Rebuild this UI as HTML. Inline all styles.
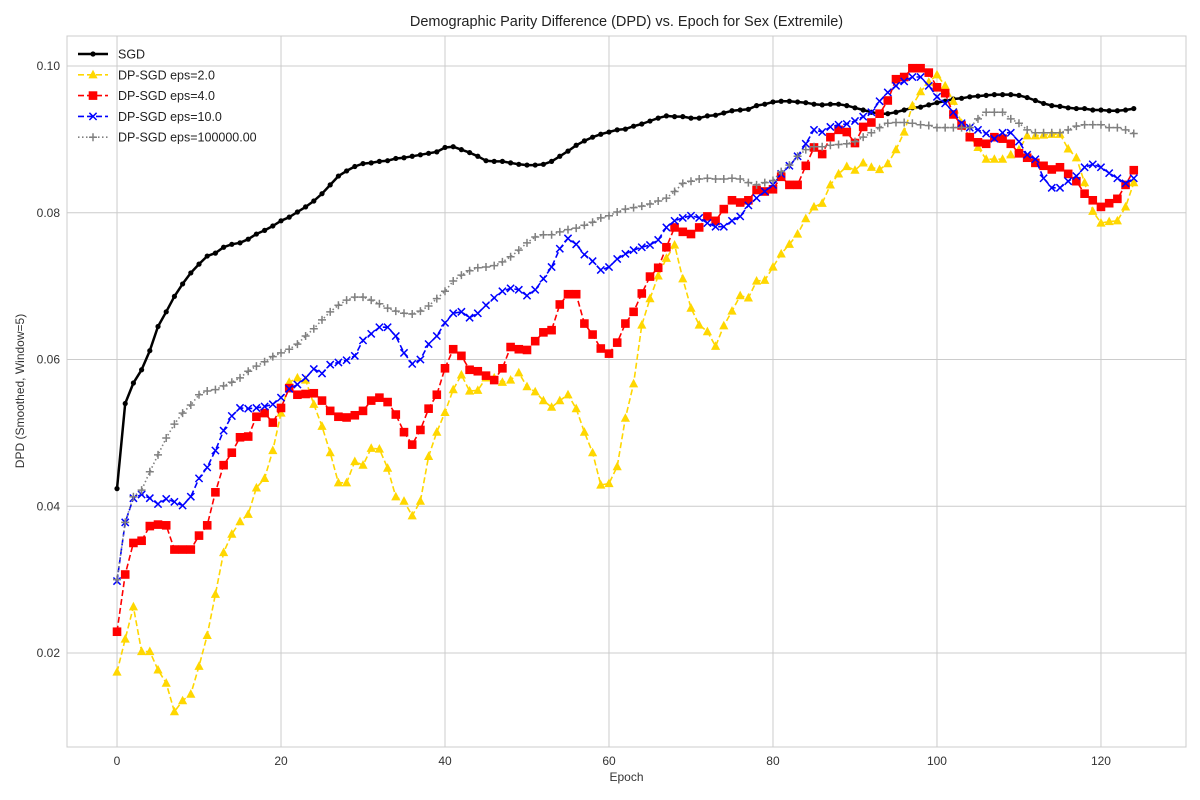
<!DOCTYPE html>
<html><head><meta charset="utf-8"><style>
body{margin:0;background:#fff}
svg{display:block;font-family:"Liberation Sans",sans-serif}
</style></head><body>
<svg id="chart" width="1200" height="800"></svg>
<script>
const epochs = Array.from({length:125},(_,i)=>i);
const xTicks = [0,20,40,60,80,100,120];
const yTicks = [0.02,0.04,0.06,0.08,0.10];
const yTickLabels = ["0.02","0.04","0.06","0.08","0.10"];
const seriesNames = ["SGD","DP-SGD eps=2.0","DP-SGD eps=4.0","DP-SGD eps=10.0","DP-SGD eps=100000.00"];
const sgd = [0.0424,0.0540,0.0568,0.0586,0.0612,0.0645,0.0665,0.0686,0.0703,0.0718,0.0730,0.0741,0.0745,0.0753,0.0757,0.0759,0.0764,0.0771,0.0776,0.0782,0.0789,0.0794,0.0801,0.0808,0.0816,0.0826,0.0838,0.0850,0.0857,0.0863,0.0867,0.0868,0.0870,0.0871,0.0874,0.0875,0.0877,0.0879,0.0881,0.0883,0.0889,0.0890,0.0886,0.0882,0.0877,0.0871,0.0870,0.0870,0.0868,0.0866,0.0865,0.0865,0.0866,0.0870,0.0877,0.0884,0.0892,0.0898,0.0903,0.0907,0.0910,0.0913,0.0914,0.0918,0.0921,0.0925,0.0929,0.0932,0.0931,0.0931,0.0929,0.0929,0.0932,0.0933,0.0936,0.0939,0.0940,0.0941,0.0946,0.0948,0.0951,0.0952,0.0952,0.0951,0.0950,0.0948,0.0947,0.0948,0.0948,0.0946,0.0943,0.0940,0.0937,0.0935,0.0935,0.0937,0.0940,0.0943,0.0944,0.0947,0.0950,0.0952,0.0955,0.0956,0.0958,0.0959,0.0960,0.0961,0.0961,0.0961,0.0960,0.0957,0.0953,0.0949,0.0946,0.0945,0.0943,0.0942,0.0942,0.0940,0.0940,0.0939,0.0939,0.0940,0.0942];
const eps2 = [0.0174,0.0219,0.0263,0.0202,0.0202,0.0177,0.0159,0.0120,0.0135,0.0144,0.0182,0.0224,0.0280,0.0337,0.0362,0.0379,0.0389,0.0425,0.0438,0.0476,0.0527,0.0569,0.0575,0.0572,0.0539,0.0509,0.0473,0.0432,0.0432,0.0461,0.0456,0.0479,0.0478,0.0452,0.0413,0.0407,0.0387,0.0407,0.0468,0.0501,0.0528,0.0559,0.0579,0.0557,0.0558,0.0575,0.0575,0.0569,0.0572,0.0582,0.0563,0.0556,0.0544,0.0535,0.0544,0.0552,0.0533,0.0501,0.0473,0.0429,0.0431,0.0454,0.0520,0.0567,0.0647,0.0683,0.0714,0.0738,0.0756,0.0710,0.0670,0.0647,0.0638,0.0618,0.0646,0.0666,0.0687,0.0684,0.0707,0.0708,0.0726,0.0744,0.0757,0.0771,0.0792,0.0808,0.0813,0.0838,0.0853,0.0863,0.0858,0.0868,0.0862,0.0859,0.0867,0.0886,0.0910,0.0946,0.0965,0.0978,0.0988,0.0973,0.0952,0.0922,0.0904,0.0889,0.0873,0.0873,0.0873,0.0879,0.0886,0.0905,0.0905,0.0906,0.0907,0.0907,0.0887,0.0875,0.0841,0.0802,0.0786,0.0788,0.0789,0.0808,0.0841];
const eps4 = [0.0229,0.0307,0.0350,0.0353,0.0373,0.0375,0.0374,0.0341,0.0341,0.0341,0.0360,0.0374,0.0419,0.0456,0.0473,0.0494,0.0495,0.0522,0.0527,0.0514,0.0534,0.0561,0.0552,0.0553,0.0554,0.0544,0.0530,0.0522,0.0521,0.0524,0.0530,0.0544,0.0548,0.0542,0.0525,0.0501,0.0484,0.0504,0.0533,0.0552,0.0588,0.0614,0.0605,0.0586,0.0584,0.0578,0.0572,0.0588,0.0617,0.0614,0.0613,0.0625,0.0637,0.0640,0.0675,0.0689,0.0689,0.0649,0.0634,0.0615,0.0608,0.0623,0.0649,0.0665,0.0690,0.0713,0.0725,0.0753,0.0780,0.0774,0.0771,0.0780,0.0795,0.0789,0.0805,0.0817,0.0814,0.0817,0.0831,0.0829,0.0832,0.0849,0.0838,0.0838,0.0864,0.0889,0.0880,0.0903,0.0913,0.0910,0.0895,0.0917,0.0923,0.0935,0.0953,0.0982,0.0985,0.0997,0.0997,0.0991,0.0971,0.0963,0.0934,0.0919,0.0903,0.0896,0.0894,0.0903,0.0901,0.0894,0.0881,0.0875,0.0868,0.0864,0.0859,0.0862,0.0853,0.0843,0.0826,0.0817,0.0808,0.0813,0.0819,0.0838,0.0858];
const eps10 = [0.0298,0.0378,0.0411,0.0416,0.0411,0.0403,0.0410,0.0406,0.0401,0.0413,0.0438,0.0453,0.0476,0.0503,0.0523,0.0534,0.0533,0.0534,0.0536,0.0539,0.0548,0.0560,0.0566,0.0575,0.0587,0.0581,0.0593,0.0596,0.0599,0.0605,0.0626,0.0635,0.0644,0.0644,0.0632,0.0609,0.0594,0.0600,0.0621,0.0632,0.0650,0.0663,0.0665,0.0657,0.0663,0.0674,0.0684,0.0693,0.0697,0.0695,0.0687,0.0695,0.0710,0.0726,0.0751,0.0765,0.0757,0.0743,0.0734,0.0722,0.0726,0.0737,0.0744,0.0749,0.0753,0.0756,0.0763,0.0780,0.0789,0.0793,0.0796,0.0793,0.0786,0.0781,0.0781,0.0789,0.0795,0.0810,0.0820,0.0829,0.0838,0.0853,0.0864,0.0877,0.0894,0.0913,0.0910,0.0917,0.0920,0.0921,0.0925,0.0931,0.0937,0.0952,0.0964,0.0973,0.0979,0.0985,0.0985,0.0973,0.0958,0.0949,0.0937,0.0922,0.0916,0.0913,0.0908,0.0901,0.0909,0.0909,0.0897,0.0879,0.0873,0.0847,0.0834,0.0834,0.0843,0.0850,0.0862,0.0866,0.0862,0.0854,0.0847,0.0840,0.0847];
const eps1e5 = [0.0300,0.0378,0.0413,0.0422,0.0447,0.0470,0.0493,0.0512,0.0527,0.0538,0.0552,0.0557,0.0559,0.0564,0.0569,0.0575,0.0584,0.0591,0.0597,0.0604,0.0609,0.0614,0.0621,0.0632,0.0642,0.0654,0.0665,0.0674,0.0681,0.0685,0.0685,0.0681,0.0676,0.0670,0.0666,0.0663,0.0662,0.0666,0.0673,0.0683,0.0693,0.0707,0.0715,0.0721,0.0725,0.0726,0.0728,0.0733,0.0740,0.0749,0.0759,0.0767,0.0770,0.0770,0.0774,0.0777,0.0779,0.0783,0.0787,0.0793,0.0796,0.0801,0.0805,0.0807,0.0809,0.0812,0.0816,0.0820,0.0829,0.0840,0.0843,0.0846,0.0847,0.0846,0.0846,0.0847,0.0846,0.0841,0.0838,0.0841,0.0844,0.0856,0.0865,0.0877,0.0886,0.0890,0.0890,0.0892,0.0893,0.0894,0.0897,0.0903,0.0909,0.0916,0.0922,0.0923,0.0923,0.0922,0.0920,0.0919,0.0916,0.0916,0.0916,0.0916,0.0916,0.0928,0.0937,0.0937,0.0937,0.0928,0.0922,0.0913,0.0909,0.0909,0.0909,0.0909,0.0913,0.0918,0.0920,0.0920,0.0920,0.0916,0.0916,0.0913,0.0908];

const NS="http://www.w3.org/2000/svg";
const svg=document.getElementById('chart');
const L=67,T=36,R=1186,B=747;
const xMin=-6.1,xMax=130.37,yMin=0.00719,yMax=0.10409;
const X=v=>L+(v-xMin)/(xMax-xMin)*(R-L);
const Y=v=>B-(v-yMin)/(yMax-yMin)*(B-T);
function mk(tag,attrs,parent){const e=document.createElementNS(NS,tag);for(const k in attrs)e.setAttribute(k,attrs[k]);(parent||svg).appendChild(e);return e;}

const grid=mk('g',{});


xTicks.forEach(t=>{mk('line',{x1:X(t),x2:X(t),y1:T,y2:B,stroke:'#cccccc','stroke-width':1},grid);
 const tx=mk('text',{x:X(t),y:B+18,'text-anchor':'middle','font-size':12,fill:'#333'});tx.textContent=t;
 
 });
yTicks.forEach((t,i)=>{mk('line',{x1:L,x2:R,y1:Y(t),y2:Y(t),stroke:'#cccccc','stroke-width':1},grid);
 const tx=mk('text',{x:L-7,y:Y(t)+4,'text-anchor':'end','font-size':12,fill:'#333'});tx.textContent=yTickLabels[i];
 
 });
const frame=mk('rect',{x:L,y:T,width:R-L,height:B-T,fill:'none',stroke:'#cccccc','stroke-width':1});



const title=mk('text',{x:(L+R)/2,y:26,'text-anchor':'middle','font-size':14.5,fill:'#222'});
title.textContent='Demographic Parity Difference (DPD) vs. Epoch for Sex (Extremile)';


const xl=mk('text',{x:(L+R)/2,y:781,'text-anchor':'middle','font-size':12,fill:'#333'});
xl.textContent='Epoch';


const yl=mk('text',{x:0,y:0,'text-anchor':'middle','font-size':12,fill:'#333',transform:'translate(24,391) rotate(-90)'});
yl.textContent='DPD (Smoothed, Window=5)';



function marker(g,type,cx,cy,color){
 if(type==='o')return mk('circle',{cx,cy,r:2.6,fill:color},g);
 if(type==='^')return mk('polygon',{points:`${cx},${cy-5} ${cx-4.6},${cy+3.6} ${cx+4.6},${cy+3.6}`,fill:color},g);
 if(type==='s')return mk('rect',{x:cx-4.3,y:cy-4.3,width:8.6,height:8.6,fill:color},g);
 if(type==='x')return mk('path',{d:`M${cx-3.6},${cy-3.6}L${cx+3.6},${cy+3.6}M${cx-3.6},${cy+3.6}L${cx+3.6},${cy-3.6}`,stroke:color,'stroke-width':1.5,fill:'none'},g);
 if(type==='+')return mk('path',{d:`M${cx-4},${cy}L${cx+4},${cy}M${cx},${cy-4}L${cx},${cy+4}`,stroke:color,'stroke-width':1.5,fill:'none'},g);
}
const styles=[
 {data:sgd,color:'#000000',dash:'',w:2.5,m:'o'},
 {data:eps2,color:'#FFD700',dash:'6,3',w:1.6,m:'^'},
 {data:eps4,color:'#FF0000',dash:'6,3',w:1.6,m:'s'},
 {data:eps10,color:'#0000FF',dash:'6,3',w:1.6,m:'x'},
 {data:eps1e5,color:'#808080',dash:'1.5,2.5',w:1.6,m:'+'}
];
const ids=['sgd','eps-2','eps-4','eps-10','eps-100000'];
styles.forEach((s,i)=>{
 const g=mk('g',{});
 
 
 const d=s.data.map((v,j)=>(j?'L':'M')+X(epochs[j]).toFixed(1)+','+Y(v).toFixed(1)).join('');
 mk('path',{d,fill:'none',stroke:s.color,'stroke-width':s.w,'stroke-dasharray':s.dash,'stroke-linejoin':'round'},g);
 s.data.forEach((v,j)=>{const m=marker(g,s.m,X(epochs[j]),Y(v),s.color);
  
  });
});

const leg=mk('g',{});


styles.forEach((s,i)=>{
 const y=54+i*20.8;
 const e=mk('g',{},leg);
 
 
 mk('line',{x1:78,x2:108,y1:y,y2:y,stroke:s.color,'stroke-width':s.w,'stroke-dasharray':s.dash},e);
 marker(e,s.m,93,y,s.color);
 const t=mk('text',{x:118,y:y+4.5,'font-size':12.5,fill:'#222'},e);
 t.textContent=seriesNames[i];
});
</script>
</body></html>
